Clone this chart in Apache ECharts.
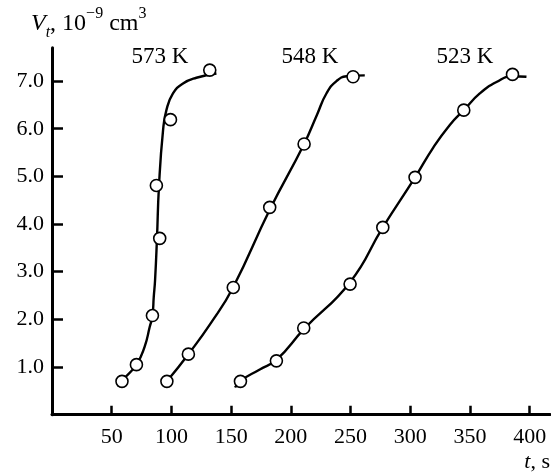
<!DOCTYPE html>
<html>
<head>
<meta charset="utf-8">
<script src="https://cdn.jsdelivr.net/npm/echarts@6/dist/echarts.min.js"></script>
<style>
  html, body { margin: 0; padding: 0; background: #fff; }
  #chart { width: 551px; height: 474px; }
</style>
</head>
<body>
<div id="chart"></div>
<script>
// measured points [t, V]
const pts573 = [[58.6, 0.70], [70.7, 1.05], [84.1, 2.08], [90.2, 3.70], [87.4, 4.81], [99.2, 6.19], [132.1, 7.23]];
const pts548 = [[96.2, 0.70], [114.2, 1.27], [151.8, 2.67], [182.3, 4.35], [211.1, 5.68], [252.1, 7.09]];
const pts523 = [[157.8, 0.70], [187.9, 1.13], [210.8, 1.82], [249.6, 2.74], [277.0, 3.93], [304.0, 4.98], [344.8, 6.39], [385.6, 7.14]];

// fitted curves
const curve573 = [[55.3, 0.59], [58.6, 0.71], [70.7, 1.05], [77.6, 1.43], [81.8, 1.84], [84.1, 2.08], [85.2, 2.47],
  [86.3, 2.82], [87.9, 3.70], [89.6, 4.81], [93.0, 5.97], [95.8, 6.39], [101.3, 6.74], [109.7, 6.95], [120.9, 7.07], [137.7, 7.16]];
const curve548 = [[96.2, 0.70], [114.2, 1.27], [133.0, 1.92], [151.6, 2.67], [182.3, 4.30],
  [211.1, 5.68], [222.0, 6.30], [230.0, 6.75], [238.2, 7.00], [246.6, 7.10], [261.9, 7.12]];
const curve523 = [[153.3, 0.57], [157.8, 0.71], [174.0, 0.95], [187.9, 1.15], [211.1, 1.80], [249.6, 2.78],
  [277.0, 3.93], [304.0, 4.98], [319.1, 5.60], [333.1, 6.08], [344.8, 6.39], [358.2, 6.74],
  [372.2, 6.98], [385.6, 7.10], [397.3, 7.09]];

const xTicks = [50, 100, 150, 200, 250, 300, 350, 400];
const yTicks = [1, 2, 3, 4, 5, 6, 7];
const curveNames = ['573 K', '548 K', '523 K'];

const font = 'Liberation Serif';
let chart = echarts.init(document.getElementById('chart'));

function curveSeries(data) {
  return {
    type: 'line',
    data: data,
    smooth: 0.5,
    showSymbol: false,
    symbol: 'none',
    lineStyle: { color: '#000', width: 2.4 },
    z: 2,
    silent: true
  };
}
function pointSeries(data) {
  return {
    type: 'scatter',
    data: data,
    symbol: 'circle',
    symbolSize: 12,
    itemStyle: { color: '#fff', borderColor: '#000', borderWidth: 1.6, opacity: 1 },
    z: 3,
    silent: true
  };
}

const label = (text, x) => ({
  type: 'text', x: x, y: 45,
  style: { text: text, fontFamily: font, fontSize: 23, fill: '#000', align: 'center', verticalAlign: 'top' }
});

chart.setOption({
  animation: false,
  grid: { left: 52, right: 1, top: 47.7, bottom: 59.3 },
  xAxis: {
    type: 'value',
    min: 0,
    max: 417,
    interval: 50,
    axisLine: { show: true, lineStyle: { color: '#000', width: 3 } },
    axisTick: { show: true, inside: true, length: 9, customValues: xTicks, lineStyle: { color: '#000', width: 2.5 } },
    axisLabel: { customValues: xTicks, color: '#000', fontFamily: font, fontSize: 22, margin: 12 },
    splitLine: { show: false }
  },
  yAxis: {
    type: 'value',
    min: 0,
    max: 7.7,
    interval: 1,
    axisLine: { show: true, lineStyle: { color: '#000', width: 3 } },
    axisTick: { show: true, inside: true, length: 11, customValues: yTicks, lineStyle: { color: '#000', width: 2.5 } },
    axisLabel: { customValues: yTicks, color: '#000', fontFamily: font, fontSize: 22, margin: 8,
      formatter: v => v.toFixed(1) },
    splitLine: { show: false }
  },
  graphic: [
    {
      type: 'text', left: 31, top: 6,
      style: {
        text: '{i|V}{sub|t}{n|, 10}{sup|−9}{n| cm}{sup|3}',
        rich: {
          i: { fontFamily: font, fontSize: 24, fontStyle: 'italic', fill: '#000', lineHeight: 30, verticalAlign: 'bottom' },
          n: { fontFamily: font, fontSize: 24, fill: '#000', lineHeight: 30, verticalAlign: 'bottom' },
          sub: { fontFamily: font, fontSize: 16, fontStyle: 'italic', fill: '#000', lineHeight: 22, verticalAlign: 'bottom', padding: [0, 0, -5, 0] },
          sup: { fontFamily: font, fontSize: 16, fill: '#000', lineHeight: 16, verticalAlign: 'top' }
        }
      }
    },
    {
      type: 'text', right: 1, top: 451,
      style: {
        text: '{i|t}{n|, s}',
        rich: {
          i: { fontFamily: font, fontSize: 22, fontStyle: 'italic', fill: '#000' },
          n: { fontFamily: font, fontSize: 22, fill: '#000' }
        }
      }
    },
    label(curveNames[0], 160),
    label(curveNames[1], 310),
    label(curveNames[2], 465)
  ],
  series: [
    curveSeries(curve573), curveSeries(curve548), curveSeries(curve523),
    pointSeries(pts573), pointSeries(pts548), pointSeries(pts523)
  ]
});
</script>
</body>
</html>
